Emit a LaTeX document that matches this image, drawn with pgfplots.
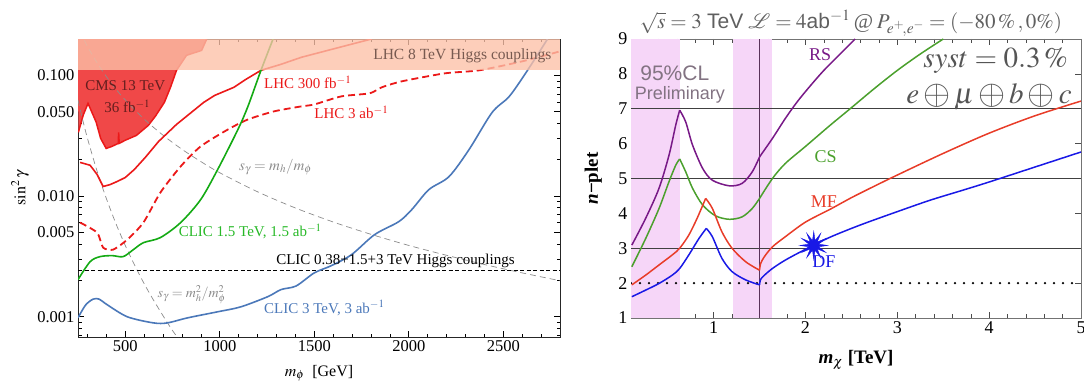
\documentclass[border=0pt]{standalone}
\usepackage{mathptmx}
\usepackage{mathrsfs}
\usepackage{fontspec}
\setmainfont{Liberation Serif}
\setsansfont{Liberation Sans}
\usepackage{pgfplots}
\pgfplotsset{compat=1.18}

\definecolor{cmsred}{RGB}{240,72,72}
\definecolor{lhcred}{RGB}{235,25,25}
\definecolor{bandsal}{RGB}{252,193,168}
\definecolor{clicgreen}{RGB}{20,170,20}
\definecolor{clicgreentxt}{RGB}{40,185,40}
\definecolor{clicblue}{RGB}{75,120,185}
\definecolor{sgray}{RGB}{140,140,140}
\definecolor{lhctext}{RGB}{120,90,80}
\definecolor{cmstext}{RGB}{100,30,30}
\definecolor{rsc}{RGB}{120,25,135}
\definecolor{csc}{RGB}{75,160,45}
\definecolor{mfc}{RGB}{232,60,40}
\definecolor{dfc}{RGB}{25,25,230}
\definecolor{bandpink}{RGB}{246,214,248}
\definecolor{titlegray}{RGB}{95,95,95}
\definecolor{clgray}{RGB}{130,115,130}
\definecolor{vline}{RGB}{90,50,90}

\pgfdeclareplotmark{burst}{%
  \pgfpathmoveto{\pgfpointpolar{0}{14pt}}%
  \pgfpathlineto{\pgfpointpolar{15}{5pt}}%
  \pgfpathlineto{\pgfpointpolar{30}{14pt}}%
  \pgfpathlineto{\pgfpointpolar{45}{5pt}}%
  \pgfpathlineto{\pgfpointpolar{60}{14pt}}%
  \pgfpathlineto{\pgfpointpolar{75}{5pt}}%
  \pgfpathlineto{\pgfpointpolar{90}{14pt}}%
  \pgfpathlineto{\pgfpointpolar{105}{5pt}}%
  \pgfpathlineto{\pgfpointpolar{120}{14pt}}%
  \pgfpathlineto{\pgfpointpolar{135}{5pt}}%
  \pgfpathlineto{\pgfpointpolar{150}{14pt}}%
  \pgfpathlineto{\pgfpointpolar{165}{5pt}}%
  \pgfpathlineto{\pgfpointpolar{180}{14pt}}%
  \pgfpathlineto{\pgfpointpolar{195}{5pt}}%
  \pgfpathlineto{\pgfpointpolar{210}{14pt}}%
  \pgfpathlineto{\pgfpointpolar{225}{5pt}}%
  \pgfpathlineto{\pgfpointpolar{240}{14pt}}%
  \pgfpathlineto{\pgfpointpolar{255}{5pt}}%
  \pgfpathlineto{\pgfpointpolar{270}{14pt}}%
  \pgfpathlineto{\pgfpointpolar{285}{5pt}}%
  \pgfpathlineto{\pgfpointpolar{300}{14pt}}%
  \pgfpathlineto{\pgfpointpolar{315}{5pt}}%
  \pgfpathlineto{\pgfpointpolar{330}{14pt}}%
  \pgfpathlineto{\pgfpointpolar{345}{5pt}}%
  \pgfpathclose
  \pgfusepathqfillstroke}

\begin{document}
\begin{tikzpicture}
\path[use as bounding box] (0,0) rectangle (1084pt,-390pt);

% ================= LEFT PANEL =================
\begin{axis}[
  at={(78pt,-39pt)}, anchor=north west,
  scale only axis, width=482pt, height=298pt,
  xmin=250, xmax=2800, ymode=log, ymin=0.00068, ymax=0.2,
  xtick={500,1000,1500,2000,2500},
  xticklabels={500,1000,1500,2000,2500},
  minor xtick={300,400,...,2800},
  ytick={0.001,0.005,0.01,0.05,0.1},
  yticklabels={0.001,0.005,0.010,0.050,0.100},
  minor ytick={0.0007,0.0008,0.0009,0.002,0.003,0.004,0.006,0.007,0.008,0.009,0.02,0.03,0.04,0.06,0.07,0.08,0.09,0.2},
  tick align=inside, major tick length=6pt, minor tick length=3.5pt,
  tick style={black, line width=0.7pt},
  axis line style={line width=1pt, black!85},
  ticklabel style={font=\fontsize{16.5}{18}\selectfont},
  xlabel={$m_\phi$\ \ [GeV]},
  xlabel style={at={(axis description cs:0.5,-0.121)}, anchor=center, font=\fontsize{16}{18}\selectfont},
  ylabel={$\sin^2\gamma$},
  ylabel style={at={(axis description cs:-0.12,0.5)}, anchor=center, rotate=0, font=\fontsize{16}{18}\selectfont},
  clip=true,
]
% CMS 13 TeV excluded region
\addplot[draw=none, fill=cmsred] coordinates {
 (250,0.2) (250,0.11) (252,0.0337) (278,0.047) (303,0.0586) (346,0.041) (370,0.030) (399,0.0248)
 (430,0.0258) (463,0.0273) (465,0.0337) (468,0.0273) (500,0.029) (559,0.0318) (622,0.0385)
 (660,0.046) (707,0.0597) (740,0.080) (771,0.110) (824,0.1465) (904,0.161) (931,0.2)} -- cycle;
\addplot[lhcred, line width=1.5pt] coordinates {
 (252,0.0337) (278,0.047) (303,0.0586) (346,0.041) (370,0.030) (399,0.0248)
 (430,0.0258) (463,0.0273) (465,0.0337) (468,0.0273) (500,0.029) (559,0.0318) (622,0.0385)
 (660,0.046) (707,0.0597) (740,0.080) (771,0.110) (824,0.1465) (904,0.161) (931,0.2)};
% gray dashed lines
\addplot[sgray, line width=0.7pt, dash pattern=on 6pt off 4pt, smooth] coordinates {
 (260,0.2311) (300,0.1736) (350,0.1276) (400,0.0977) (450,0.0772) (500,0.0625) (600,0.0434)
 (700,0.0319) (800,0.0244) (900,0.0193) (1000,0.0156) (1200,0.01085) (1400,0.00797) (1600,0.0061)
 (1800,0.00482) (2000,0.0039) (2200,0.00323) (2400,0.00271) (2600,0.00231) (2800,0.00199)};
\addplot[sgray, line width=0.7pt, dash pattern=on 6pt off 4pt, smooth] coordinates {
 (250,0.0625) (275,0.0427) (300,0.0301) (350,0.01627) (400,0.00954) (450,0.00595) (500,0.0039)
 (550,0.00267) (600,0.00188) (650,0.00137) (700,0.00102) (750,0.00077) (800,0.0006)};
% CLIC Higgs couplings
\addplot[black, line width=0.8pt, dash pattern=on 4pt off 2.5pt] coordinates {(250,0.0024) (2800,0.0024)};
% LHC 300 fb-1
\addplot[lhcred, line width=1.6pt] coordinates {
 (261,0.0190) (314,0.0180) (351,0.0151) (383,0.0120) (420,0.01245) (457,0.0132) (500,0.01424)
 (548,0.0166) (606,0.0209) (676,0.0283) (771,0.0392) (915,0.0597) (973,0.0682) (1074,0.0795)
 (1138,0.0926) (1218,0.110) (1324,0.1234) (1431,0.141) (1654,0.174) (1803,0.2)};
% LHC 3 ab-1
\addplot[lhcred, line width=1.8pt, dash pattern=on 7pt off 4pt, smooth, tension=0.4] coordinates {
 (261,0.00603) (351,0.00498) (383,0.00374) (436,0.00360) (511,0.00436) (596,0.00603) (686,0.0107)
 (793,0.0176) (899,0.0258) (1043,0.0356) (1149,0.0431) (1287,0.0503) (1431,0.0553) (1500,0.0574)
 (1644,0.0670) (1793,0.0710) (1856,0.0795) (1963,0.0892) (2191,0.1039) (2372,0.110) (2601,0.1307) (2800,0.158)};
% CLIC 1.5 TeV
\addplot[clicgreen, line width=1.6pt, smooth, tension=0.5] coordinates {
 (250,0.00203) (314,0.00286) (367,0.00315) (431,0.00321) (489,0.00315) (543,0.0036) (596,0.00411)
 (686,0.00453) (793,0.00603) (899,0.00935) (989,0.0166) (1096,0.0356) (1149,0.0553) (1218,0.110) (1282,0.2)};
% CLIC 3 TeV
\addplot[clicblue, line width=1.6pt, smooth, tension=0.5] coordinates {
 (250,0.00098) (290,0.00125) (330,0.00140) (362,0.00140) (404,0.00126) (511,0.00100) (649,0.00089) (723,0.00089)
 (830,0.00098) (989,0.00110) (1112,0.00121) (1255,0.00147) (1324,0.00168) (1404,0.00180) (1500,0.00231)
 (1590,0.00265) (1697,0.00327) (1819,0.00479) (1947,0.00614) (2016,0.00773) (2106,0.0113)
 (2213,0.0145) (2319,0.0243) (2441,0.0493) (2532,0.0670) (2628,0.110) (2734,0.2)};
% LHC 8 TeV Higgs couplings band
\addplot[draw=none, fill=bandsal, fill opacity=0.79] coordinates {(250,0.11) (2800,0.11) (2800,0.2) (250,0.2)} -- cycle;

\node[cmstext, font=\fontsize{15}{17}\selectfont, inner sep=0] at (axis cs:500,0.0826) {CMS 13 TeV};
\node[cmstext, font=\fontsize{15}{17}\selectfont, inner sep=0] at (axis cs:511,0.0553) {36 fb$^{-1}$};
\node[lhcred, font=\fontsize{15}{17}\selectfont, inner sep=0, anchor=west] at (axis cs:1234,0.0875) {LHC 300 fb$^{-1}$};
\node[lhcred, font=\fontsize{15}{17}\selectfont, inner sep=0, anchor=west] at (axis cs:1500,0.0493) {LHC 3 ab$^{-1}$};
\node[lhctext, font=\fontsize{15.5}{17}\selectfont, inner sep=0, anchor=east] at (axis cs:2755,0.144) {LHC 8 TeV Higgs couplings};
\node[sgray, font=\fontsize{15}{16}\selectfont, inner sep=0, anchor=west] at (axis cs:1101,0.0173) {$s_\gamma = m_h/m_\phi$};
\node[clicgreentxt, font=\fontsize{15}{17}\selectfont, inner sep=0, anchor=west] at (axis cs:782,0.00507) {CLIC 1.5 TeV, 1.5 ab$^{-1}$};
\node[black, font=\fontsize{15}{17}\selectfont, inner sep=0, anchor=west] at (axis cs:1298,0.0029) {CLIC 0.38+1.5+3 TeV Higgs couplings};
\node[sgray, font=\fontsize{14}{16}\selectfont, inner sep=0, anchor=west] at (axis cs:670,0.00152) {$s_\gamma = m_h^2/m_\phi^2$};
\node[clicblue, font=\fontsize{15}{17}\selectfont, inner sep=0, anchor=west] at (axis cs:1234,0.00118) {CLIC 3 TeV, 3 ab$^{-1}$};
\end{axis}

% ================= RIGHT PANEL =================
\node[titlegray, font=\fontsize{21}{24}\selectfont, anchor=base] at (851pt,-28.5pt)
 {$\sqrt{s} = 3$ \textsf{TeV} $\mathscr{L} = 4$\textsf{ab}$^{-1}$\,@\,$P_{e^+\!,e^-} = (-80\,\%\,,0\%)$};

\begin{axis}[
  at={(631pt,-39pt)}, anchor=north west,
  scale only axis, width=450pt, height=279pt,
  xmin=0.1, xmax=5, ymin=1, ymax=9,
  xtick={1,2,3,4,5}, ytick={1,2,...,9},
  minor xtick={0.2,0.4,0.6,0.8,1.2,1.4,1.6,1.8,2.2,2.4,2.6,2.8,3.2,3.4,3.6,3.8,4.2,4.4,4.6,4.8},
  tick align=inside, major tick length=6pt, minor tick length=4pt,
  tick style={black!70, line width=0.6pt},
  axis line style={line width=0.9pt, black!55},
  ticklabel style={font=\fontsize{18}{20}\selectfont},
  /pgf/number format/assume math mode=true,
  xlabel={\textbf{\textit{m}}$_{\chi}$ \textbf{[TeV]}},
  xlabel style={at={(axis description cs:0.5,-0.15)}, anchor=center, font=\fontsize{19}{21}\selectfont},
  ylabel={\textbf{\textit{n}−plet}},
  ylabel style={at={(axis description cs:-0.084,0.5)}, anchor=center, font=\fontsize{19}{21}\selectfont},
  clip=true,
]
\addplot[draw=none, fill=bandpink] coordinates {(0.1,1) (0.63,1) (0.63,9) (0.1,9)} -- cycle;
\addplot[draw=none, fill=bandpink] coordinates {(1.21,1) (1.64,1) (1.64,9) (1.21,9)} -- cycle;
\addplot[black!75, line width=0.6pt] coordinates {(0.1,3) (5,3)};
\addplot[black!75, line width=0.6pt] coordinates {(0.1,5) (5,5)};
\addplot[black!75, line width=0.6pt] coordinates {(0.1,7) (5,7)};
\addplot[vline, line width=0.8pt] coordinates {(1.5,1) (1.5,9)};
\addplot[black, line width=2.6pt, dash pattern=on 0pt off 9pt, line cap=round] coordinates {(0.1,2) (5,2)};

% RS
\addplot[rsc, line width=1.5pt, smooth, tension=0.5] coordinates {(0.109,3.09)(0.26,3.86)(0.405,4.72)(0.514,5.67)(0.587,6.53)(0.63,6.96)};
\addplot[rsc, line width=1.5pt, smooth, tension=0.5] coordinates {(0.63,6.96)(0.696,6.62)(0.77,5.96)(0.88,5.29)(0.986,4.95)(1.17,4.79)(1.31,4.86)(1.42,5.19)(1.50,5.62)};
\addplot[rsc, line width=1.5pt, smooth, tension=0.5] coordinates {(1.50,5.62)(1.64,6.15)(1.78,6.72)(1.91,7.2)(2.05,7.65)(2.2,8.1)(2.37,8.55)(2.54,9.0)};
% CS
\addplot[csc, line width=1.5pt, smooth, tension=0.5] coordinates {(0.109,2.47)(0.26,3.28)(0.405,4.14)(0.514,4.91)(0.587,5.38)(0.63,5.56)};
\addplot[csc, line width=1.5pt, smooth, tension=0.5] coordinates {(0.63,5.56)(0.696,5.19)(0.77,4.72)(0.88,4.24)(1.02,3.93)(1.17,3.83)(1.31,3.90)(1.42,4.14)(1.50,4.43)};
\addplot[csc, line width=1.5pt, smooth, tension=0.5] coordinates {(1.50,4.43)(1.64,5.0)(1.78,5.43)(2.0,5.92)(2.27,6.53)(2.5,7.03)(2.75,7.58)(3.0,8.1)(3.25,8.57)(3.5,9.0)};
% MF
\addplot[mfc, line width=1.5pt, smooth, tension=0.5] coordinates {(0.109,1.95)(0.26,2.23)(0.405,2.52)(0.55,2.81)(0.63,3.0)(0.73,3.38)(0.82,3.86)(0.913,4.43)};
\addplot[mfc, line width=1.5pt, smooth, tension=0.5] coordinates {(0.913,4.43)(0.986,4.14)(1.09,3.47)(1.20,3.0)(1.35,2.61)(1.5,2.37)};
\addplot[mfc, line width=1.5pt, smooth, tension=0.5] coordinates {(1.5,2.37)(1.51,2.55)(1.55,2.75)(1.64,3.04)(1.78,3.33)(2.0,3.75)(2.27,4.12)(2.5,4.45)(2.75,4.78)(3.0,5.1)(3.5,5.72)(4.0,6.3)(4.5,6.8)(5.0,7.22)};
% DF
\addplot[dfc, line width=1.5pt, smooth, tension=0.5] coordinates {(0.109,1.61)(0.26,1.80)(0.405,1.99)(0.55,2.23)(0.63,2.42)(0.73,2.81)(0.84,3.28)(0.92,3.57)};
\addplot[dfc, line width=1.5pt, smooth, tension=0.5] coordinates {(0.92,3.57)(0.986,3.33)(1.09,2.71)(1.20,2.33)(1.35,2.09)(1.5,1.95)};
\addplot[dfc, line width=1.5pt, smooth, tension=0.5] coordinates {(1.5,1.95)(1.51,2.10)(1.55,2.22)(1.64,2.42)(1.78,2.66)(2.0,2.97)(2.27,3.32)(2.6,3.67)(3.0,4.05)(3.36,4.38)(3.72,4.67)(4.0,4.9)(4.5,5.33)(5.0,5.76)};
% star
\addplot[only marks, mark=burst, dfc, mark options={fill=dfc, draw=dfc}] coordinates {(2.09,3.08)};

\node[rsc, font=\fontsize{18}{20}\selectfont, inner sep=0] at (axis cs:2.16,8.54) {RS};
\node[csc, font=\fontsize{18}{20}\selectfont, inner sep=0] at (axis cs:2.22,5.62) {CS};
\node[mfc, font=\fontsize{18}{20}\selectfont, inner sep=0] at (axis cs:2.2,4.33) {MF};
\node[dfc, font=\fontsize{18}{20}\selectfont, inner sep=0] at (axis cs:2.2,2.61) {DF};
\node[clgray, font=\sffamily\fontsize{21}{23}\selectfont, inner sep=0, anchor=west] at (axis cs:0.2,8.02) {95\%CL};
\node[clgray, font=\sffamily\fontsize{18}{20}\selectfont, inner sep=0, anchor=west] at (axis cs:0.14,7.40) {Preliminary};
\node[titlegray!90!black, font=\fontsize{29}{32}\selectfont, inner sep=0, anchor=east] at (axis cs:4.86,8.38) {$syst = 0.3\,\%$};
\node[titlegray!90!black, font=\fontsize{29}{32}\selectfont, inner sep=0, anchor=east] at (axis cs:4.90,7.35) {$e \mathbin{\raisebox{-0.05em}{\scalebox{1.2}{$\oplus$}}} \mu \mathbin{\raisebox{-0.05em}{\scalebox{1.2}{$\oplus$}}} b \mathbin{\raisebox{-0.05em}{\scalebox{1.2}{$\oplus$}}} c$};
\end{axis}
\end{tikzpicture}
\end{document}
